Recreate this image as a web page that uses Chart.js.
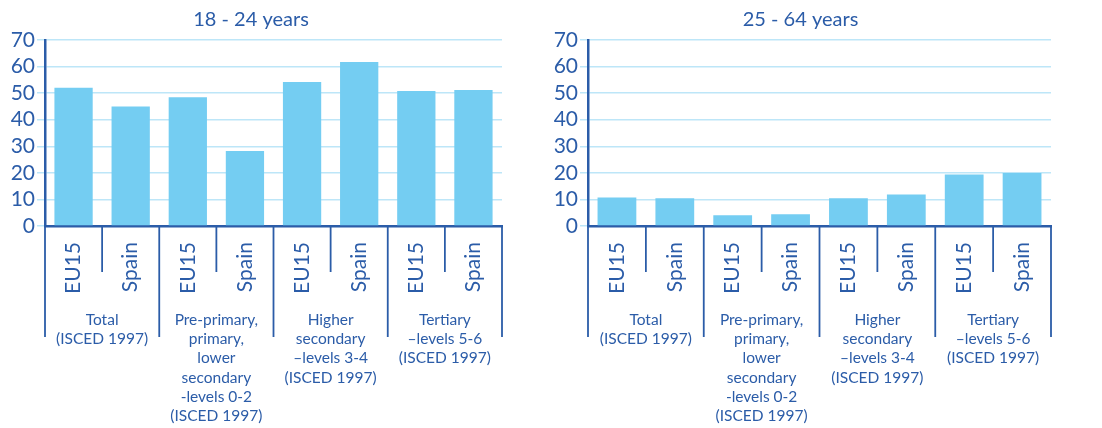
<!DOCTYPE html>
<html>
<head>
<meta charset="utf-8">
<script src="https://cdn.jsdelivr.net/npm/chart.js@4.4.1/dist/chart.umd.min.js"></script>
<style>
  html, body { margin: 0; padding: 0; background: #fff; }
  #wrap { position: relative; width: 1102px; height: 428px; }
  #left { position: absolute; left: 0; top: 0; }
  #right { position: absolute; left: 550px; top: 0; }
</style>
</head>
<body>
<div id="wrap">
  <canvas id="left" width="550" height="428"></canvas>
  <canvas id="right" width="552" height="428"></canvas>
</div>
<script>
// data
const categories = ['EU15', 'Spain', 'EU15', 'Spain', 'EU15', 'Spain', 'EU15', 'Spain'];
const groups = [
    ['Total', '(ISCED 1997)'],
    ['Pre-primary,', 'primary,', 'lower', 'secondary', '-levels 0-2', '(ISCED 1997)'],
    ['Higher', 'secondary', '\u2013levels 3-4', '(ISCED 1997)'],
    ['Tertiary', '\u2013levels 5-6', '(ISCED 1997)']
];
const young = [52, 45, 48.5, 28.2, 54.2, 61.7, 50.8, 51.2];
const adult = [10.7, 10.4, 4.0, 4.4, 10.4, 11.9, 19.4, 19.9];
const yTicks = [0, 10, 20, 30, 40, 50, 60, 70];

const BLUE = '#2b5ca8';
const GRID = '#bde6f8';
const BAR = '#74cdf2';
const FONT = 'Lato';

// draws the group labels and the separators under the x axis
const groupLabels = {
    id: 'groupLabels',
    afterDraw(chart) {
        const ctx = chart.ctx;
        const x = chart.scales.x;
        const y0 = x.top;
        const bounds = [];
        for (let i = 0; i <= categories.length; i++) {
            if (i === 0) bounds.push(x.left);
            else if (i === categories.length) bounds.push(x.right);
            else bounds.push((x.getPixelForValue(i - 1) + x.getPixelForValue(i)) / 2);
        }
        ctx.save();
        ctx.strokeStyle = BLUE;
        ctx.lineWidth = 1.8;
        bounds.forEach((bx, i) => {
            const len = i % 2 === 0 ? 111 : 46;
            ctx.beginPath();
            ctx.moveTo(bx, y0);
            ctx.lineTo(bx, y0 + len);
            ctx.stroke();
        });
        ctx.fillStyle = BLUE;
        ctx.font = '15.5px ' + FONT;
        ctx.textAlign = 'center';
        ctx.textBaseline = 'middle';
        groups.forEach((lines, g) => {
            const cx = (bounds[g * 2] + bounds[g * 2 + 2]) / 2;
            lines.forEach((line, k) => {
                ctx.fillText(line, cx, y0 + 94 + k * 19.2);
            });
        });
        ctx.restore();
    }
};

function makeChart(id, title, values, yWidth, rightPad) {
    const ctx = document.getElementById(id).getContext('2d');
    return new Chart(ctx, {
        type: 'bar',
        data: {
            labels: categories,
            datasets: [{
                data: values,
                backgroundColor: BAR,
                borderWidth: 0,
                barPercentage: 0.67,
                categoryPercentage: 1
            }]
        },
        options: {
            responsive: false,
            animation: false,
            layout: { padding: { left: 0, right: rightPad, top: 0, bottom: 0 } },
            plugins: {
                legend: { display: false },
                tooltip: { enabled: false },
                title: {
                    display: true,
                    text: title,
                    color: BLUE,
                    font: { family: FONT, size: 20, weight: 'normal' },
                    padding: { top: 8, bottom: 8 }
                }
            },
            scales: {
                x: {
                    afterFit(scale) { scale.height = 202; },
                    grid: { display: false },
                    border: { display: true, color: BLUE, width: 2.5 },
                    ticks: {
                        color: BLUE,
                        font: { family: FONT, size: 21 },
                        minRotation: 90,
                        maxRotation: 90,
                        padding: 8,
                        autoSkip: false
                    }
                },
                y: {
                    min: 0,
                    max: 70,
                    afterFit(scale) { scale.width = yWidth; },
                    afterBuildTicks(scale) { scale.ticks = yTicks.map(v => ({ value: v })); },
                    grid: { color: GRID, lineWidth: 1.5, tickLength: 8, tickColor: GRID },
                    border: { color: BLUE, width: 2.5 },
                    ticks: {
                        color: BLUE,
                        font: { family: FONT, size: 21 },
                        padding: 2,
                        autoSkip: false
                    }
                }
            }
        },
        plugins: [groupLabels]
    });
}

makeChart('left', '18 - 24 years', young, 45, 48);
makeChart('right', '25 - 64 years', adult, 38, 51);
</script>
</body>
</html>
